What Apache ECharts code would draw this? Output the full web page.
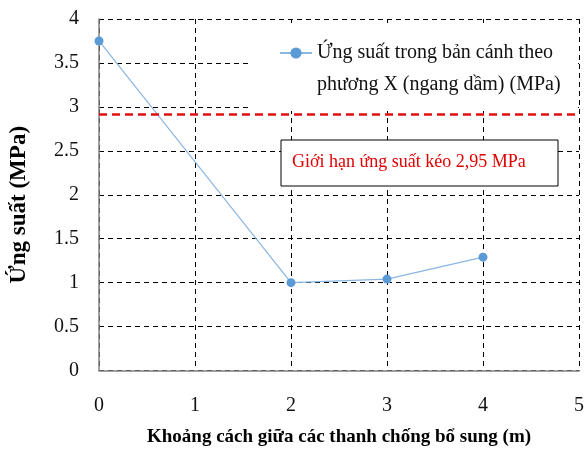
<!DOCTYPE html>
<html>
<head>
<meta charset="utf-8">
<script src="https://cdn.jsdelivr.net/npm/echarts@6/dist/echarts.min.js"></script>
<style>
html,body{margin:0;padding:0;background:#fff;}
#c{width:587px;height:452px;}
</style>
</head>
<body>
<div id="c"></div>
<script>
const xValues = [0, 2, 3, 4];
const stressValues = [3.75, 1.0, 1.04, 1.29];
const limitValue = 2.92;
const seriesName = 'Ứng suất trong bản cánh theo\nphương X (ngang dầm) (MPa)';
const limitText = 'Giới hạn ứng suất kéo 2,95 MPa';
const xAxisName = 'Khoảng cách giữa các thanh chống bổ sung (m)';
const yAxisName = 'Ứng suất (MPa)';

const FONT = '"Liberation Serif", "Times New Roman", serif';
const chart = echarts.init(document.getElementById('c'));
chart.setOption({
  animation: false,
  backgroundColor: '#fff',
  textStyle: { fontFamily: FONT },
  grid: { left: 98, right: 6, top: 19, bottom: 81.5, containLabel: false },
  xAxis: {
    type: 'value', min: 0, max: 5, interval: 1,
    name: xAxisName, nameLocation: 'middle', nameGap: 57,
    nameTextStyle: { fontFamily: FONT, fontSize: 19, fontWeight: 'bold', color: '#000' },
    axisLine: { show: true, onZero: false, lineStyle: { color: '#808080', width: 1.5 } },
    axisTick: { show: false },
    axisLabel: { fontFamily: FONT, fontSize: 20, color: '#111', margin: 25 },
    splitLine: { show: true, lineStyle: { color: '#000', type: [5, 4], width: 1 } }
  },
  yAxis: {
    type: 'value', min: 0, max: 4, interval: 0.5,
    name: yAxisName, nameLocation: 'middle', nameGap: 68, nameRotate: 90,
    nameTextStyle: { fontFamily: FONT, fontSize: 23, fontWeight: 'bold', color: '#000', padding: [0, 20, 0, 0] },
    axisLine: { show: true, lineStyle: { color: '#808080', width: 1.5 } },
    axisTick: { show: false },
    axisLabel: { fontFamily: FONT, fontSize: 20, color: '#111', margin: 20 },
    splitLine: { show: true, lineStyle: { color: '#000', type: [5, 4], width: 1 } }
  },
  legend: {
    left: 279, top: 5, padding: 0,
    itemWidth: 32, itemHeight: 14,
    backgroundColor: 'transparent',
    formatter: function (name) { return '\n' + name; },
    textStyle: { fontFamily: FONT, fontSize: 20, color: '#111', lineHeight: 32 },
    data: [seriesName]
  },
  graphic: [
    { type: 'rect', z: 3, silent: true, shape: { x: 252, y: 23, width: 326, height: 88 }, style: { fill: '#fff' } },
    { type: 'rect', z: 3, silent: true, shape: { x: 281, y: 140, width: 277, height: 46 }, style: { fill: '#fff', stroke: '#000', lineWidth: 1 } },
    { type: 'text', z: 4, silent: true, left: 292, top: 153, style: { text: limitText, fill: '#e00000', font: '18px ' + FONT } }
  ],
  series: [{
    name: seriesName,
    type: 'line',
    data: xValues.map((x, i) => [x, stressValues[i]]),
    symbol: 'circle', symbolSize: 9,
    itemStyle: { color: '#5B9BD5' },
    lineStyle: { color: '#8AB6E2', width: 1.2 },
    markLine: {
      silent: true, symbol: 'none',
      label: { show: false },
      lineStyle: { color: '#e01010', type: [8, 5], width: 2.5 },
      data: [{ yAxis: limitValue }]
    }
  }]
});
</script>
</body>
</html>
